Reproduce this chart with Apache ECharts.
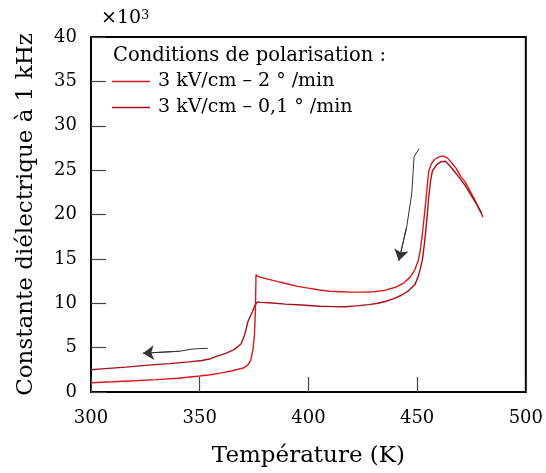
<!DOCTYPE html>
<html>
<head>
<meta charset="utf-8">
<script src="https://cdn.jsdelivr.net/npm/echarts@6/dist/echarts.min.js"></script>
<style>html,body{margin:0;padding:0;background:#fff}#c{width:546px;height:473px}</style>
</head>
<body>
<div id="c"></div>
<script>
// ---- data ----
const seriesNames = ['3 kV/cm \u2013 2 \u00b0 /min', '3 kV/cm \u2013 0,1 \u00b0 /min'];
const tempA = [300,310,320,330,340,350,355,360,365,370,372,373.5,374.5,375.2,375.6,375.9,377,380,385,390,395,400,405,410,415,420,425,430,435,440,444,447,449,450.5,451.5,452.5,453.5,454.5,455.3,456.5,458,460,462,464,466,468,470,472,474,476,478,480.3];
const valA  = [1.05,1.15,1.27,1.4,1.55,1.8,1.95,2.15,2.4,2.7,3.0,3.6,4.8,6.5,9,13.2,13.0,12.8,12.5,12.2,11.9,11.7,11.5,11.35,11.3,11.25,11.25,11.3,11.45,11.8,12.3,13,13.8,14.8,16,18,20.3,22.8,24.8,25.7,26.2,26.5,26.6,26.35,25.8,25.2,24.3,23.7,22.8,21.9,20.9,19.7];
const tempB = [300,305,316,325,336,345,351,355,358,362,366,369,370.5,371.5,372,373,374.3,375.5,376.6,378,382,389.5,397,405,412,417,422,427.7,432,435.3,439,442.8,446,449,450.5,451.5,452.5,453.5,454.5,455.3,456.2,457,459,461,463,465,467,469.6,472,475,477,479.6];
const valB  = [2.5,2.6,2.8,3.0,3.2,3.4,3.55,3.75,4.05,4.35,4.8,5.4,6.3,7.2,7.8,8.4,9.1,9.8,10.15,10.1,10.05,9.9,9.8,9.67,9.62,9.6,9.7,9.85,10.0,10.2,10.5,10.9,11.4,12.1,13,13.9,15,17,19.5,21.8,23.8,24.9,25.6,25.95,26.0,25.5,24.9,24.1,23.3,22.1,21.3,20.2];
const arrowDown = [[450.9,27.4],[448.6,26.5],[447.5,22.3],[445.2,18.6],[441.6,14.8]];
const arrowLeft = [[353.7,4.92],[347,4.85],[340.7,4.59],[323.9,4.37]];
const xTicks = [300,350,400,450,500];
const yTicks = [0,5,10,15,20,25,30,35,40];
const legendTitle = 'Conditions de polarisation :';
const xName = 'Temp\u00e9rature (K)';
const yName = 'Constante di\u00e9lectrique \u00e0 1 kHz';

const FONT = 'DejaVu Serif';
const colA = '#d8191e', colB = '#a3111a';
const zip = (a,b)=>a.map((v,i)=>[v,b[i]]);
const tip = p => ({coords:[p[p.length-2], p[p.length-1]]});

const chart = echarts.init(document.getElementById('c'), null, {renderer:'canvas'});
chart.setOption({
  animation:false,
  backgroundColor:'#fff',
  grid:{left:91,top:37,right:18,bottom:76,show:true,borderColor:'#000',borderWidth:2,backgroundColor:'transparent'},
  xAxis:{type:'value',min:xTicks[0],max:xTicks[xTicks.length-1],interval:50,
    name:xName,nameLocation:'middle',nameGap:53,
    nameTextStyle:{fontFamily:FONT,fontSize:23,color:'#000'},
    axisLine:{show:true,lineStyle:{color:'#000',width:2}},
    axisTick:{show:true,inside:true,length:15,lineStyle:{color:'#444',width:1.2}},
    axisLabel:{fontFamily:FONT,fontSize:18,color:'#000',margin:17},
    splitLine:{show:false}},
  yAxis:{type:'value',min:yTicks[0],max:yTicks[yTicks.length-1],interval:5,
    name:yName,nameLocation:'middle',nameGap:53,nameRotate:90,
    nameTextStyle:{fontFamily:FONT,fontSize:23,color:'#000'},
    axisLine:{show:true,lineStyle:{color:'#000',width:2}},
    axisTick:{show:true,inside:true,length:15,lineStyle:{color:'#444',width:1.2}},
    axisLabel:{fontFamily:FONT,fontSize:18,color:'#000',margin:14},
    splitLine:{show:false}},
  legend:{data:seriesNames,left:112,top:71,orient:'vertical',itemGap:5,itemWidth:38,itemHeight:1.5,icon:'rect',
    textStyle:{fontFamily:FONT,fontSize:19,color:'#000',lineHeight:21,padding:[0,0,0,3]},padding:0},
  graphic:[
    {type:'text',left:113,top:46,style:{text:legendTitle,font:'19.5px "DejaVu Serif"',fill:'#000'}},
    {type:'text',left:101,top:9,style:{rich:{b:{fontFamily:FONT,fontSize:19,fill:'#000',verticalAlign:'bottom'},s:{fontFamily:FONT,fontSize:13,fill:'#000',verticalAlign:'top'}},text:'{b|\u00d710}{s|3}'}}
  ],
  series:[
    {name:seriesNames[0],type:'line',data:zip(tempA,valA),showSymbol:false,symbol:'none',lineStyle:{color:colA,width:1.4},itemStyle:{color:colA},z:3},
    {name:seriesNames[1],type:'line',data:zip(tempB,valB),showSymbol:false,symbol:'none',lineStyle:{color:colB,width:1.4},itemStyle:{color:colB},z:4},
    {type:'lines',coordinateSystem:'cartesian2d',polyline:true,symbol:'none',
      lineStyle:{color:'#333',width:1,opacity:1},
      data:[{coords:arrowDown},{coords:arrowLeft}],z:5},
    {type:'lines',coordinateSystem:'cartesian2d',polyline:false,symbol:['none','arrow'],symbolSize:11,
      lineStyle:{color:'#333',width:1,opacity:1,curveness:0},
      data:[tip(arrowDown),tip(arrowLeft)],z:5}
  ]
});
</script>
</body>
</html>
